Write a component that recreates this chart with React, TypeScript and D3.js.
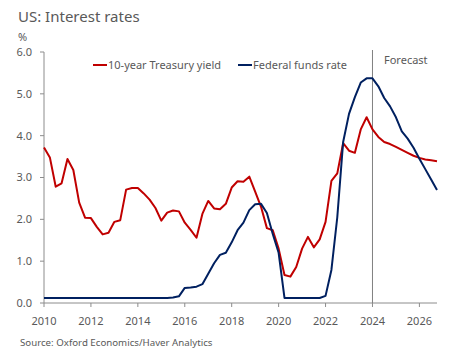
import * as d3 from 'd3';
import React from 'react';

// quarterly data, first point = 2010 Q1
const startYear = 2010;
const treasuryYield = [
  3.72, 3.48, 2.78, 2.86,
  3.44, 3.18, 2.40, 2.04,
  2.03, 1.82, 1.64, 1.68,
  1.94, 1.98, 2.71, 2.75,
  2.75, 2.62, 2.47, 2.27,
  1.97, 2.16, 2.21, 2.19,
  1.92, 1.75, 1.56, 2.13,
  2.44, 2.26, 2.24, 2.37,
  2.76, 2.91, 2.90, 3.02,
  2.66, 2.30, 1.79, 1.74,
  1.30, 0.67, 0.63, 0.86,
  1.30, 1.58, 1.33, 1.52,
  1.94, 2.92, 3.10, 3.82,
  3.64, 3.59, 4.15, 4.44,
  4.15, 3.97, 3.85, 3.80,
  3.73, 3.66, 3.59, 3.52,
  3.47, 3.43, 3.41, 3.39,
];
const fedFunds = [
  0.12, 0.12, 0.12, 0.12,
  0.12, 0.12, 0.12, 0.12,
  0.12, 0.12, 0.12, 0.12,
  0.12, 0.12, 0.12, 0.12,
  0.12, 0.12, 0.12, 0.12,
  0.12, 0.12, 0.13, 0.16,
  0.36, 0.37, 0.39, 0.45,
  0.70, 0.95, 1.15, 1.20,
  1.45, 1.74, 1.92, 2.22,
  2.36, 2.37, 2.15, 1.65,
  1.20, 0.12, 0.12, 0.12,
  0.12, 0.12, 0.12, 0.12,
  0.17, 0.79, 2.05, 3.85,
  4.52, 4.92, 5.27, 5.37,
  5.37, 5.18, 4.90, 4.70,
  4.44, 4.10, 3.93, 3.71,
  3.45, 3.20, 2.95, 2.70,
];
const seriesNames = ['10-year Treasury yield', 'Federal funds rate'];
const seriesColors = ['#C00000', '#002060'];
const yTicks = [0, 1, 2, 3, 4, 5, 6];
const xTicks = [2010, 2012, 2014, 2016, 2018, 2020, 2022, 2024, 2026];
const forecastStart = 2024;

const width = 456;
const height = 350;
const margin = { top: 52, right: 19, bottom: 47, left: 44 };
const font = "'Segoe UI', 'Noto Sans', sans-serif";
const textColor = '#595959';
const axisColor = '#8c8c8c';

export default function App() {
  const x = d3.scaleLinear()
    .domain([startYear, startYear + (treasuryYield.length - 1) / 4])
    .range([margin.left, width - margin.right]);
  const y = d3.scaleLinear()
    .domain([0, 6])
    .range([height - margin.bottom, margin.top]);

  const line = d3.line<number>()
    .x((d, i) => x(startYear + i / 4))
    .y((d) => y(d));

  const series = [treasuryYield, fedFunds];
  const legendX = [93, 238];

  return (
    <svg width={width} height={height} style={{ position: 'absolute', left: 0, top: 0 }} fontFamily={font}>
      <rect width={width} height={height} fill="#fff" />
      <text x={18} y={22} fontSize={15} fill={textColor}>US: Interest rates</text>
      <text x={18} y={41} fontSize={11} fill={textColor}>%</text>

      {/* y axis */}
      <line x1={x.range()[0]} x2={x.range()[0]} y1={y(6)} y2={y(0)} stroke={axisColor} />
      {yTicks.map((t) => (
        <g key={t}>
          <line x1={x.range()[0] - 4} x2={x.range()[0]} y1={y(t)} y2={y(t)} stroke={axisColor} />
          <text x={32} y={y(t)} dy="0.35em" textAnchor="end" fontSize={11} fill={textColor}>
            {d3.format('.1f')(t)}
          </text>
        </g>
      ))}

      {/* x axis */}
      <line x1={x.range()[0]} x2={x.range()[1]} y1={y(0)} y2={y(0)} stroke={axisColor} />
      {xTicks.map((t) => (
        <g key={t}>
          <line x1={x(t)} x2={x(t)} y1={y(0)} y2={y(0) + 4} stroke={axisColor} />
          <text x={x(t)} y={y(0) + 18} dy="0.35em" textAnchor="middle" fontSize={11} fill={textColor}>
            {t}
          </text>
        </g>
      ))}

      {/* forecast divider */}
      <line x1={x(forecastStart)} x2={x(forecastStart)} y1={50} y2={y(0)} stroke="#808080" />
      <text x={384} y={60} dy="0.35em" fontSize={11} fill={textColor}>Forecast</text>

      {series.map((s, i) => (
        <path key={i} d={line(s) ?? ''} fill="none" stroke={seriesColors[i]} strokeWidth={2} strokeLinejoin="round" />
      ))}

      {/* legend */}
      {seriesNames.map((name, i) => (
        <g key={name}>
          <line x1={legendX[i]} x2={legendX[i] + 14} y1={65} y2={65} stroke={seriesColors[i]} strokeWidth={2} />
          <text x={legendX[i] + 15} y={65} dy="0.35em" fontSize={11} fill={textColor}>{name}</text>
        </g>
      ))}

      <text x={20} y={343} dy="0.35em" fontSize={9.7} fill={textColor}>
        Source: Oxford Economics/Haver Analytics
      </text>
    </svg>
  );
}
